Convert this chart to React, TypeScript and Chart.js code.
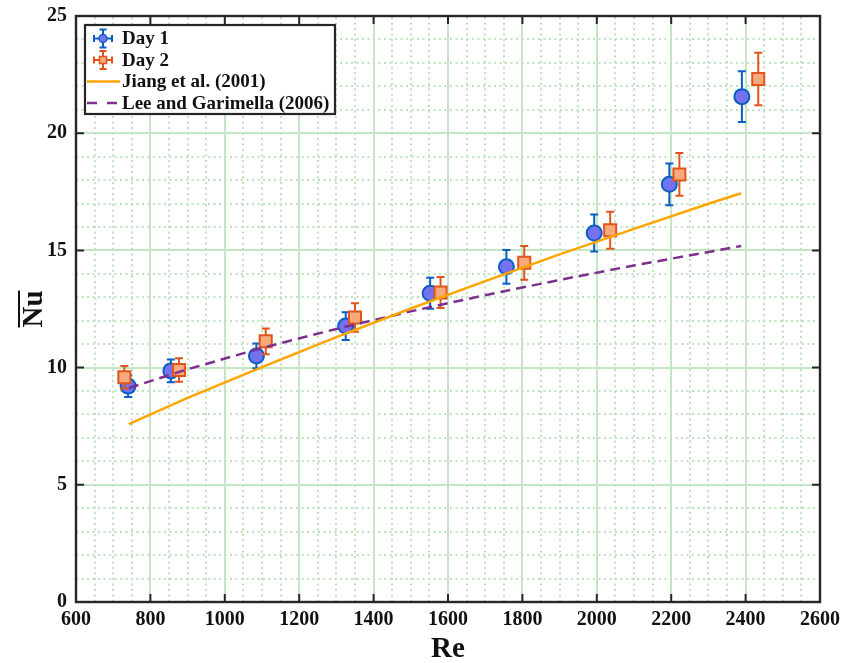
import React, { useEffect, useRef } from 'react';
import { Chart, registerables } from 'chart.js';

Chart.register(...registerables);

// ---- data ----
const xTicks = [600, 800, 1000, 1200, 1400, 1600, 1800, 2000, 2200, 2400, 2600];
const yTicks = [0, 5, 10, 15, 20, 25];

const reDay1 = [740, 855, 1085, 1325, 1552, 1757, 1993, 2195, 2390];
const nuDay1 = [9.21, 9.86, 10.5, 11.77, 13.17, 14.3, 15.74, 17.82, 21.56];
const errDay1 = [0.46, 0.49, 0.53, 0.59, 0.66, 0.72, 0.79, 0.89, 1.08];

const reDay2 = [730, 877, 1110, 1350, 1580, 1805, 2036, 2222, 2434];
const nuDay2 = [9.59, 9.9, 11.12, 12.14, 13.2, 14.47, 15.86, 18.24, 22.31];
const errDay2 = [0.48, 0.5, 0.55, 0.61, 0.66, 0.72, 0.79, 0.91, 1.12];

const reJiang = [742, 900, 1100, 1300, 1500, 1700, 1900, 2100, 2300, 2388];
const nuJiang = [7.59, 8.71, 10.02, 11.3, 12.52, 13.69, 14.83, 15.92, 16.99, 17.44];

const reLee = [742, 900, 1100, 1300, 1500, 1700, 1900, 2100, 2300, 2388];
const nuLee = [9.13, 9.93, 10.84, 11.65, 12.4, 13.09, 13.74, 14.36, 14.93, 15.19];

const legendLabels = ['Day 1', 'Day 2', 'Jiang et al. (2001)', 'Lee and Garimella (2006)'];

const FONT = "'Liberation Serif', 'Times New Roman', serif";
const BLUE = '#0b5fc4';
const BLUE_FILL = '#7472ef';
const ORANGE = '#e0561a';
const ORANGE_FILL = '#f9aa7c';
const JIANG = '#ffa500';
const LEE = '#7e2f8e';
const AXIS = '#262626';
const GRID_MAJOR = 'rgba(196,230,196,1)';
const GRID_MINOR = 'rgba(190,226,190,1)';

const pts = (xs: number[], ys: number[]) => xs.map((x, i) => ({ x, y: ys[i] }));

const errorBarPlugin = {
  id: 'errorBars',
  beforeDatasetDraw(chart: any, args: any) {
    const ds = chart.data.datasets[args.index];
    if (!ds.errs) return;
    const xs = chart.scales.x;
    const ys = chart.scales.y;
    const ctx = chart.ctx;
    ctx.save();
    ctx.strokeStyle = ds.errColor;
    ctx.lineWidth = 2;
    ds.data.forEach((p: any, i: number) => {
      const px = xs.getPixelForValue(p.x);
      const top = ys.getPixelForValue(p.y + ds.errs[i]);
      const bot = ys.getPixelForValue(p.y - ds.errs[i]);
      ctx.beginPath();
      ctx.moveTo(px, top);
      ctx.lineTo(px, bot);
      ctx.moveTo(px - 4, top);
      ctx.lineTo(px + 4, top);
      ctx.moveTo(px - 4, bot);
      ctx.lineTo(px + 4, bot);
      ctx.stroke();
    });
    ctx.restore();
  },
};

const frameInside = {
  id: 'frameInside',
  beforeDatasetsDraw(chart: any) {
    const { ctx, chartArea: a } = chart;
    const xs = chart.scales.x;
    const ys = chart.scales.y;
    ctx.save();
    ctx.strokeStyle = GRID_MINOR;
    ctx.lineWidth = 2;
    ctx.setLineDash([2, 3.5]);
    for (let v = 650; v < 2600; v += 50) {
      if (v % 200 === 0) continue;
      const px = Math.round(xs.getPixelForValue(v));
      ctx.beginPath();
      ctx.moveTo(px, a.bottom);
      ctx.lineTo(px, a.top);
      ctx.stroke();
    }
    for (let v = 1; v < 25; v += 1) {
      if (v % 5 === 0) continue;
      const py = Math.round(ys.getPixelForValue(v));
      ctx.beginPath();
      ctx.moveTo(a.left, py);
      ctx.lineTo(a.right, py);
      ctx.stroke();
    }
    ctx.restore();
  },
  afterDatasetsDraw(chart: any) {
    const { ctx, chartArea: a } = chart;
    const xs = chart.scales.x;
    const ys = chart.scales.y;
    ctx.save();
    ctx.strokeStyle = AXIS;
    ctx.lineWidth = 2;
    ctx.setLineDash([]);
    const tl = 8;
    xTicks.forEach((v) => {
      const px = xs.getPixelForValue(v);
      ctx.beginPath();
      ctx.moveTo(px, a.bottom);
      ctx.lineTo(px, a.bottom - tl);
      ctx.moveTo(px, a.top);
      ctx.lineTo(px, a.top + tl);
      ctx.stroke();
    });
    yTicks.forEach((v) => {
      const py = ys.getPixelForValue(v);
      ctx.beginPath();
      ctx.moveTo(a.left, py);
      ctx.lineTo(a.left + tl, py);
      ctx.moveTo(a.right, py);
      ctx.lineTo(a.right - tl, py);
      ctx.stroke();
    });
    ctx.lineWidth = 2.4;
    ctx.strokeRect(a.left, a.top, a.right - a.left, a.bottom - a.top);
    ctx.restore();
  },
  afterDraw(chart: any) {
    const { ctx, chartArea: a } = chart;
    ctx.save();
    // axis titles
    ctx.fillStyle = '#111';
    ctx.strokeStyle = '#111';
    ctx.font = `bold 29px ${FONT}`;
    ctx.textAlign = 'center';
    ctx.textBaseline = 'alphabetic';
    ctx.fillText('Re', (a.left + a.right) / 2, 657);
    ctx.save();
    ctx.translate(42, (a.top + a.bottom) / 2);
    ctx.rotate(-Math.PI / 2);
    ctx.fillText('Nu', 0, 0);
    const w = ctx.measureText('Nu').width;
    ctx.lineWidth = 2;
    ctx.beginPath();
    ctx.moveTo(-w / 2, -23);
    ctx.lineTo(w / 2, -23);
    ctx.stroke();
    ctx.restore();

    // legend
    const bx = 85, by = 25, bw = 250, bh = 89;
    ctx.fillStyle = '#ffffff';
    ctx.fillRect(bx, by, bw, bh);
    ctx.strokeStyle = AXIS;
    ctx.lineWidth = 2.2;
    ctx.strokeRect(bx, by, bw, bh);
    const rows = [38.5, 60, 81.5, 103];
    const ix = 103;
    const drawIcon = (cy: number, col: string, fill: string, square: boolean) => {
      ctx.strokeStyle = col;
      ctx.lineWidth = 2;
      ctx.beginPath();
      ctx.moveTo(ix, cy - 9);
      ctx.lineTo(ix, cy + 9);
      ctx.moveTo(ix - 3.5, cy - 9);
      ctx.lineTo(ix + 3.5, cy - 9);
      ctx.moveTo(ix - 3.5, cy + 9);
      ctx.lineTo(ix + 3.5, cy + 9);
      ctx.moveTo(ix - 9, cy);
      ctx.lineTo(ix + 9, cy);
      ctx.moveTo(ix - 9, cy - 3.5);
      ctx.lineTo(ix - 9, cy + 3.5);
      ctx.moveTo(ix + 9, cy - 3.5);
      ctx.lineTo(ix + 9, cy + 3.5);
      ctx.stroke();
      ctx.fillStyle = fill;
      ctx.beginPath();
      if (square) ctx.rect(ix - 3.5, cy - 3.5, 7, 7);
      else ctx.arc(ix, cy, 4, 0, Math.PI * 2);
      ctx.fill();
      ctx.lineWidth = 1.5;
      ctx.stroke();
    };
    drawIcon(rows[0], BLUE, BLUE_FILL, false);
    drawIcon(rows[1], ORANGE, ORANGE_FILL, true);
    ctx.lineWidth = 2.5;
    ctx.strokeStyle = JIANG;
    ctx.beginPath();
    ctx.moveTo(87, rows[2]);
    ctx.lineTo(120, rows[2]);
    ctx.stroke();
    ctx.strokeStyle = LEE;
    ctx.setLineDash([10, 10]);
    ctx.beginPath();
    ctx.moveTo(87, rows[3]);
    ctx.lineTo(120, rows[3]);
    ctx.stroke();
    ctx.setLineDash([]);
    ctx.fillStyle = '#111';
    ctx.font = `bold 19px ${FONT}`;
    ctx.textAlign = 'left';
    ctx.textBaseline = 'middle';
    legendLabels.forEach((t, i) => ctx.fillText(t, 122, rows[i] + 1));
    ctx.restore();
  },
};

export default function App() {
  const ref = useRef<HTMLCanvasElement | null>(null);
  useEffect(() => {
    if (!ref.current) return;
    const chart = new Chart(ref.current, {
      type: 'scatter',
      data: {
        datasets: [
          {
            label: legendLabels[2],
            data: pts(reJiang, nuJiang),
            showLine: true,
            borderColor: JIANG,
            borderWidth: 2.5,
            pointRadius: 0,
            order: 0,
          } as any,
          {
            label: legendLabels[3],
            data: pts(reLee, nuLee),
            showLine: true,
            borderColor: LEE,
            borderWidth: 2.5,
            borderDash: [10, 6],
            pointRadius: 0,
            order: 0,
          } as any,
          {
            label: legendLabels[0],
            data: pts(reDay1, nuDay1),
            errs: errDay1,
            errColor: BLUE,
            pointStyle: 'circle',
            pointRadius: 7.5,
            pointBorderWidth: 2,
            borderColor: BLUE,
            backgroundColor: BLUE_FILL,
            order: 2,
          } as any,
          {
            label: legendLabels[1],
            data: pts(reDay2, nuDay2),
            errs: errDay2,
            errColor: ORANGE,
            pointStyle: 'rect',
            pointRadius: 8.5,
            pointBorderWidth: 2,
            borderColor: ORANGE,
            backgroundColor: ORANGE_FILL,
            order: 1,
          } as any,
        ],
      },
      options: {
        animation: false,
        responsive: true,
        maintainAspectRatio: false,
        layout: { padding: { left: 0, right: 23, top: 16, bottom: 0 } },
        plugins: { legend: { display: false }, tooltip: { enabled: false } },
        scales: {
          x: {
            type: 'linear',
            min: 600,
            max: 2600,
            afterBuildTicks: (s: any) => {
              s.ticks = xTicks.map((v) => ({ value: v }));
            },
            afterFit: (s: any) => {
              s.height = 61;
              s.paddingLeft = 0;
              s.paddingRight = 0;
            },
            ticks: {
              color: '#111',
              font: { family: FONT, size: 20, weight: 'bold' },
              padding: 6,
              maxRotation: 0,
              autoSkip: false,
              callback: (v: any) => String(v),
            },
            grid: { color: GRID_MAJOR, lineWidth: 2, drawTicks: false },
            border: { display: false },
          },
          y: {
            type: 'linear',
            min: 0,
            max: 25,
            afterBuildTicks: (s: any) => {
              s.ticks = yTicks.map((v) => ({ value: v }));
            },
            afterFit: (s: any) => {
              s.width = 76;
              s.paddingTop = 0;
              s.paddingBottom = 0;
            },
            ticks: {
              color: '#111',
              font: { family: FONT, size: 20, weight: 'bold' },
              padding: 9,
              autoSkip: false,
              callback: (v: any) => String(v),
            },
            grid: { color: GRID_MAJOR, lineWidth: 2, drawTicks: false },
            border: { display: false },
          },
        },
      },
      plugins: [errorBarPlugin, frameInside],
    } as any);
    return () => chart.destroy();
  }, []);
  return (
    <div style={{ position: 'absolute', left: 0, top: 0, width: 843, height: 663, background: '#fff' }}>
      <canvas ref={ref} />
    </div>
  );
}
